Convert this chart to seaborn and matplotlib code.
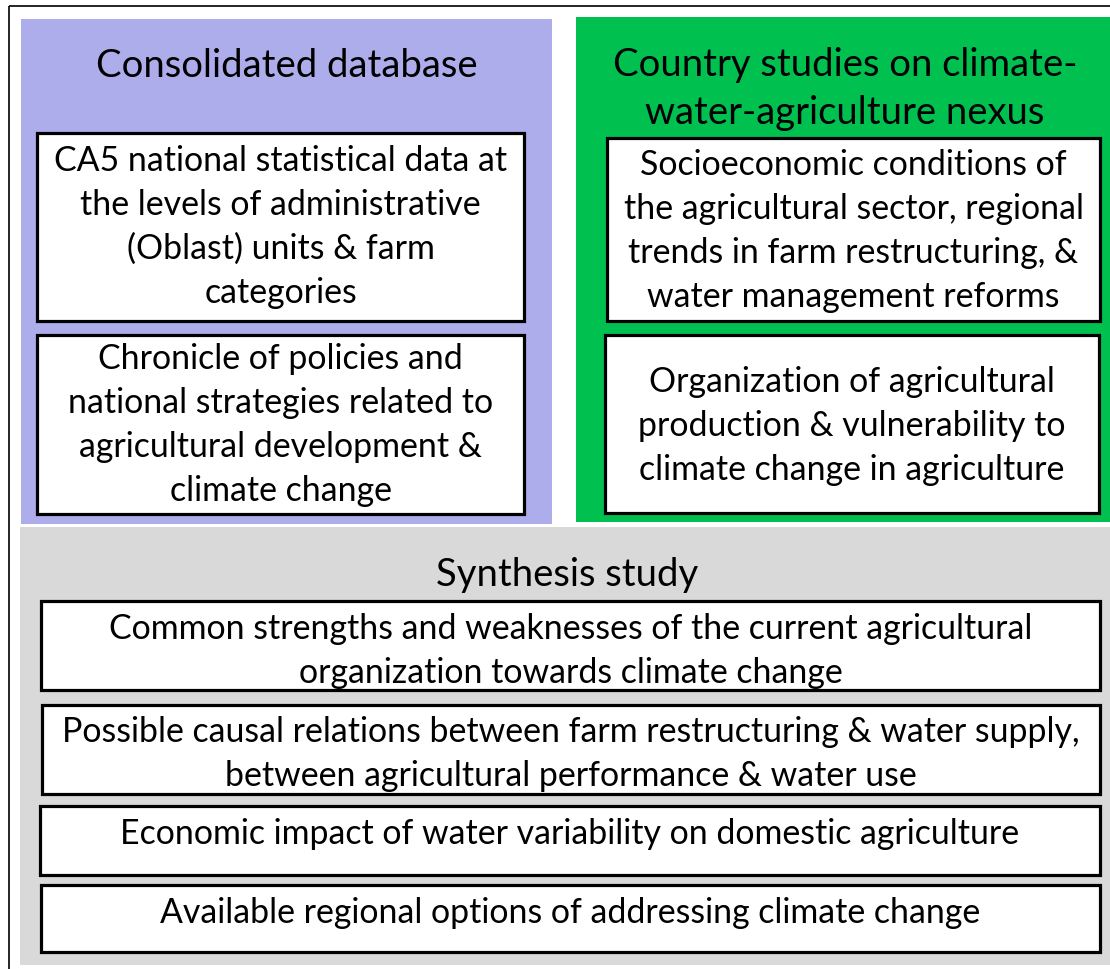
import matplotlib
matplotlib.use("Agg")
import matplotlib.pyplot as plt
from matplotlib.patches import Rectangle
import seaborn as sns

sns.set_theme(style="white")
plt.rcParams['font.family'] = ['Lato', 'DejaVu Sans']
plt.rcParams['text.color'] = 'black'

# panel titles
titles = ["Consolidated database",
          "Country studies on climate-\nwater-agriculture nexus",
          "Synthesis study"]

# texts of the white boxes
blue_items = ["CA5 national statistical data at\nthe levels of administrative\n(Oblast) units & farm\ncategories",
              "Chronicle of policies and\nnational strategies related to\nagricultural development &\nclimate change"]
green_items = ["Socioeconomic conditions of\nthe agricultural sector, regional\ntrends in farm restructuring, &\nwater management reforms",
               "Organization of agricultural\nproduction & vulnerability to\nclimate change in agriculture"]
gray_items = ["Common strengths and weaknesses of the current agricultural\norganization towards climate change",
              "Possible causal relations between farm restructuring & water supply,\nbetween agricultural performance & water use",
              "Economic impact of water variability on domestic agriculture",
              "Available regional options of addressing climate change"]

# layout (pixels: x0, y0, x1, y1), text centre y
panels = [(21, 20, 552, 525, "#ADADEB"),
          (576, 18, 1112, 523, "#00C050"),
          (20, 528, 1112, 966, "#D9D9D9")]
title_pos = [(287, 66), (845, 89), (567, 575)]

blue_boxes = [(37, 134, 524, 322, 227), (37, 336, 524, 515, 425)]
green_boxes = [(607, 139, 1100, 322, 231), (605, 336, 1099, 514, 426)]
gray_boxes = [(41, 602, 1100, 691, 651), (42, 706, 1100, 795, 754),
              (40, 807, 1100, 876, 834), (41, 886, 1100, 953, 913)]

fig = plt.figure(figsize=(11.1, 9.7), dpi=100)
ax = fig.add_axes([0, 0, 1, 1])
ax.set_xlim(0, 1110)
ax.set_ylim(970, 0)
ax.axis('off')

# outer frame
ax.add_patch(Rectangle((9, 7), 1120, 1000, fill=False, edgecolor='black', lw=1.2))

for x0, y0, x1, y1, c in panels:
    ax.add_patch(Rectangle((x0, y0), x1 - x0, y1 - y0, facecolor=c, edgecolor='none'))

for (tx, ty), t in zip(title_pos, titles):
    ax.text(tx, ty, t, ha='center', va='center', fontsize=27.5, linespacing=1.42,
            color='black')

def draw_boxes(boxes, items):
    for (x0, y0, x1, y1, ty), t in zip(boxes, items):
        ax.add_patch(Rectangle((x0, y0), x1 - x0, y1 - y0, facecolor='white',
                               edgecolor='black', lw=2.3))
        ax.text((x0 + x1) / 2, ty, t, ha='center', va='center', fontsize=24.4,
                linespacing=1.45, color='black')

draw_boxes(blue_boxes, blue_items)
draw_boxes(green_boxes, green_items)
draw_boxes(gray_boxes, gray_items)

fig.savefig("out.png", dpi=100)
